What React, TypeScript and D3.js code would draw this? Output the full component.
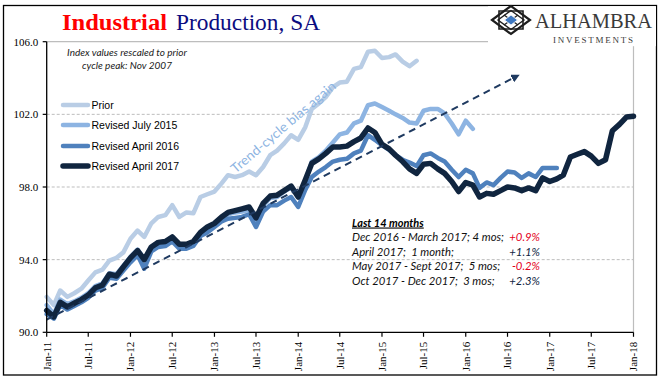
import * as d3 from "d3";

// ---- data ----
const START = new Date(2011, 0, 1);
const END = new Date(2018, 0, 1);

const tickLabels = [
  "Jan-11", "Jul-11", "Jan-12", "Jul-12", "Jan-13", "Jul-13", "Jan-14", "Jul-14",
  "Jan-15", "Jul-15", "Jan-16", "Jul-16", "Jan-17", "Jul-17", "Jan-18",
];
const yTicks = [90, 94, 98, 102, 106];
const yGrid = [94, 98, 102];

const prior = [
  91.95, 91.5, 92.3, 91.95, 92.15, 92.4, 92.85, 93.3, 93.45, 93.95, 94.1, 94.4,
  95.15, 95.6, 95.25, 96.0, 96.35, 96.45, 97.0, 96.35, 96.6, 96.55, 97.45, 97.6,
  97.75, 98.2, 98.65, 98.55, 98.65, 98.85, 98.65, 99.1, 99.75, 100.0, 100.4, 100.85,
  100.6, 101.3, 102.3, 102.6, 102.95, 103.5, 103.75, 103.8, 104.5, 104.6, 105.45, 105.5,
  105.1, 105.15, 105.3, 104.9, 104.65, 104.95,
];

const revisedJul2015 = [
  91.5, 91.0, 91.8, 91.55, 91.7, 91.9, 92.15, 92.55, 92.7, 93.25, 93.2, 93.65,
  94.15, 94.55, 94.05, 94.7, 94.95, 95.0, 95.2, 94.8, 94.8, 94.95, 95.45, 95.7,
  95.95, 96.3, 96.5, 96.6, 96.65, 96.75, 96.2, 97.0, 97.4, 97.45, 97.75, 98.0,
  97.5, 98.3, 99.4, 99.65, 100.0, 100.45, 100.9, 101.0, 101.5, 101.65, 102.5, 102.6,
  102.4, 102.2, 102.0, 101.8, 101.55, 101.5, 102.2, 102.3, 102.3, 102.05, 101.5, 100.9,
  101.65, 101.2,
];

const revisedApr2016 = [
  91.0, 90.75, 91.5, 91.25, 91.45, 91.65, 91.9, 92.3, 92.45, 93.0, 92.95, 93.4,
  93.85, 94.25, 93.5, 94.45, 94.7, 94.75, 95.0, 94.6, 94.6, 94.75, 95.3, 95.5,
  95.8, 96.1, 96.25, 96.3, 96.35, 96.5, 95.8, 96.65, 97.0, 97.0, 97.25, 97.45,
  96.9, 97.85, 98.55, 98.85, 99.1, 99.4, 99.5, 99.55, 99.85, 100.0, 100.85, 100.6,
  100.3, 100.05, 99.75, 99.5, 99.35, 99.15, 99.75, 99.85, 99.6, 99.4, 98.95, 98.55,
  98.95, 98.75, 97.95, 98.25, 98.1, 98.5, 98.85, 98.8, 98.5, 98.75, 98.55, 99.05,
  99.05, 99.05,
];

const revisedApr2017 = [
  91.2, 90.85, 91.65, 91.4, 91.6, 91.8, 92.05, 92.45, 92.6, 93.2, 93.1, 93.6,
  94.1, 94.5, 94.0, 94.7, 94.95, 95.0, 95.25, 94.85, 94.85, 95.0, 95.5, 95.8,
  96.0, 96.35, 96.6, 96.7, 96.8, 96.9, 96.3, 97.1, 97.5, 97.55, 97.8, 98.05,
  97.45, 98.4, 99.3, 99.55, 99.85, 100.2, 100.2, 100.25, 100.5, 100.7, 101.25, 101.0,
  100.35, 100.1, 99.75, 99.4, 99.0, 98.75, 99.25, 99.3, 99.0, 98.75, 98.3, 97.75,
  98.25, 98.1, 97.45, 97.65, 97.6, 97.8, 98.0, 97.95, 97.8, 97.95, 97.8, 98.5,
  98.3, 98.45, 98.65, 99.65, 99.8, 99.95, 99.7, 99.3, 99.5, 101.1, 101.45, 101.85,
  101.9,
];

const seriesNames = ["Prior", "Revised July 2015", "Revised April 2016", "Revised April 2017"];
const seriesValues = [prior, revisedJul2015, revisedApr2016, revisedApr2017];
const seriesColors = ["#b9cde5", "#8db4e2", "#4f81bd", "#10253f"];
const seriesWidths = [4.5, 4.5, 4.5, 5.5];

// dashed "trend" arrow, in data terms
const trendStart = { date: "2011-01-01", value: 90.7 };
const trendEnd = { date: "2016-08-10", value: 104.1 };

const summaryTitle = "Last 14 months";
const summaryText = [
  "Dec 2016 - March 2017; 4 mos;",
  "April 2017;  1 month;",
  "May 2017 - Sept 2017;  5 mos;",
  "Oct 2017 - Dec 2017;  3 mos;",
];
const summaryPct = ["+0.9%", "+1.1%", "-0.2%", "+2.3%"];
const summaryPctColors = ["#e3001b", "#10253f", "#e3001b", "#10253f"];

const SERIF = "'Liberation Serif', 'Times New Roman', serif";
const SANS = "'Liberation Sans', Arial, sans-serif";
const CAL = "Lato, 'Open Sans', sans-serif";

export default function App() {
  const width = 669;
  const height = 392;

  const x = d3.scaleTime().domain([START, END]).range([46.7, 633.5]);
  const y = d3.scaleLinear().domain([90, 106]).range([332.3, 41.7]);

  const parseTick = d3.timeParse("%b-%y");
  const parseDay = d3.timeParse("%Y-%m-%d");
  const monthDate = (i: number) => d3.timeMonth.offset(START, i);

  const line = d3
    .line<number>()
    .x((_, i) => x(monthDate(i)))
    .y((d) => y(d));

  const [x0, x1] = x.range();
  const yTop = y(106);
  const yBot = y(90);

  const tx1 = x(parseDay(trendStart.date)!);
  const ty1 = y(trendStart.value);
  const tx2 = x(parseDay(trendEnd.date)!);
  const ty2 = y(trendEnd.value);

  // text along the prior line
  const annX = x(parseDay("2013-10-28")!);
  const annY = y(101.3);

  const legendY = [105, 125, 146, 166];

  return (
    <svg
      width={width}
      height={height}
      style={{ position: "absolute", left: 0, top: 0, background: "#fff" }}
    >
      <defs>
        <marker
          id="arrow"
          viewBox="0 0 10 10"
          refX="6"
          refY="5"
          markerWidth="4.2"
          markerHeight="4.2"
          orient="auto"
          markerUnits="strokeWidth"
        >
          <path d="M0,0 L10,5 L0,10 z" fill="#1f3a60" />
        </marker>
      </defs>
      <rect x={0} y={0} width={width} height={height} fill="#fff" />
      {/* outer frame */}
      <rect x={3.5} y={5.5} width={653} height={369.5} fill="none" stroke="#000" strokeWidth={1.3} />

      {/* title */}
      <text x={62} y={29.5} fontFamily={SERIF} fontSize={23} fontWeight="bold" fill="#ff0000" textLength={105} lengthAdjust="spacingAndGlyphs">
        Industrial
      </text>
      <text x={176} y={29.5} fontFamily={SERIF} fontSize={23} fill="#0b0b80" textLength={144} lengthAdjust="spacingAndGlyphs">
        Production, SA
      </text>

      {/* gridlines */}
      {yGrid.map((v) => (
        <line key={v} x1={x0} x2={x1} y1={y(v)} y2={y(v)} stroke="#bdbdbd" strokeWidth={1} strokeDasharray="3,2" />
      ))}
      <line x1={x0} x2={x1} y1={yTop} y2={yTop} stroke="#bdbdbd" strokeWidth={1.2} />
      <line x1={x1} x2={x1} y1={yTop} y2={yBot} stroke="#bdbdbd" strokeWidth={1.2} />

      {/* series */}
      {seriesValues.map((vals, i) => (
        <path
          key={seriesNames[i]}
          d={line(vals) || ""}
          fill="none"
          stroke={seriesColors[i]}
          strokeWidth={seriesWidths[i]}
          strokeLinejoin="round"
          strokeLinecap="round"
        />
      ))}

      {/* trend arrow */}
      <line
        x1={tx1}
        y1={ty1}
        x2={tx2}
        y2={ty2}
        stroke="#1f3a60"
        strokeWidth={2}
        strokeDasharray="7,5"
        markerEnd="url(#arrow)"
      />

      <text
        x={annX}
        y={annY}
        transform={`rotate(-40.4 ${annX} ${annY})`}
        textAnchor="middle"
        dy="0.35em"
        fontFamily={CAL}
        fontSize={13}
        fill="#8db4e2"
        textLength={133}
        lengthAdjust="spacingAndGlyphs"
      >
        Trend-cycle bias again
      </text>

      {/* axes */}
      <line x1={x0} x2={x0} y1={yTop} y2={yBot} stroke="#000" strokeWidth={1.3} />
      <line x1={x0} x2={x1} y1={yBot} y2={yBot} stroke="#000" strokeWidth={1.3} />
      {yTicks.map((v) => (
        <g key={v}>
          <line x1={x0 - 4} x2={x0} y1={y(v)} y2={y(v)} stroke="#000" strokeWidth={1.2} />
          <text x={x0 - 8.5} y={y(v)} dy="0.35em" textAnchor="end" fontFamily={SERIF} fontSize={11} fill="#000">
            {d3.format(".1f")(v)}
          </text>
        </g>
      ))}
      {tickLabels.map((lab) => {
        const tx = x(parseTick(lab)!);
        return (
          <g key={lab}>
            <line x1={tx} x2={tx} y1={yBot} y2={yBot + 4.5} stroke="#000" strokeWidth={1.2} />
            <text
              transform={`translate(${tx},${yBot + 9.5}) rotate(-90)`}
              textAnchor="end"
              dy="0.35em"
              fontFamily={SERIF}
              fontSize={11}
              fill="#000"
            >
              {lab}
            </text>
          </g>
        );
      })}

      {/* note */}
      <text x={127} y={55.7} textAnchor="middle" fontFamily={CAL} fontStyle="italic" fontSize={10} fill="#1a1a1a">
        Index values rescaled to prior
      </text>
      <text x={127} y={69} textAnchor="middle" fontFamily={CAL} fontStyle="italic" fontSize={10} fill="#1a1a1a">
        cycle peak: Nov 2007
      </text>

      {/* legend */}
      {seriesNames.map((name, i) => (
        <g key={name}>
          <line x1={63} x2={88} y1={legendY[i]} y2={legendY[i]} stroke={seriesColors[i]} strokeWidth={seriesWidths[i]} strokeLinecap="round" />
          <text x={91.5} y={legendY[i]} dy="0.36em" fontFamily={SANS} fontSize={10.5} fill="#000">
            {name}
          </text>
        </g>
      ))}

      {/* summary box */}
      <text x={352} y={226.5} fontFamily={CAL} fontStyle="italic" fontWeight="bold" fontSize={11} textDecoration="underline" fill="#000">
        {summaryTitle}
      </text>
      {summaryText.map((t, i) => (
        <g key={t}>
          <text
            x={352}
            y={241 + i * 14.5}
            fontFamily={CAL}
            fontStyle="italic"
            fontSize={11.3}
            fill="#111"
            style={{ whiteSpace: "pre" }}
          >
            {t}
          </text>
          <text x={540} y={241 + i * 14.5} textAnchor="end" fontFamily={CAL} fontStyle="italic" fontSize={11.3} fill={summaryPctColors[i]}>
            {summaryPct[i]}
          </text>
        </g>
      ))}

      {/* logo */}
      <rect x={488} y={6.2} width={168} height={40} fill="#fff" />
      <g transform="translate(511,20)">
        <path d="M-19,0 L0,-14 L19,0 L0,14 Z" fill="none" stroke="#1e1e1e" strokeWidth={2.2} />
        <path d="M-12,-9 L12,-9 L12,9 L-12,9 Z" fill="none" stroke="#1e1e1e" strokeWidth={1.6} />
        <path d="M-13,0 L0,-9.5 L13,0 L0,9.5 Z" fill="none" stroke="#1e1e1e" strokeWidth={1.4} />
        <path d="M-7,-5 L7,5 M-7,5 L7,-5" stroke="#1e1e1e" strokeWidth={1.2} />
        <path d="M-6.5,0 L0,-5 L6.5,0 L0,5 Z" fill="#3f78c0" stroke="#fff" strokeWidth={0.8} />
      </g>
      <text x={535} y={27.5} fontFamily={SERIF} fontSize={20} fill="#3a3a3a" textLength={117} lengthAdjust="spacingAndGlyphs">
        ALHAMBRA
      </text>
      <text x={553} y={42.5} fontFamily={SERIF} fontSize={9} fill="#3a3a3a" textLength={80} lengthAdjust="spacing">
        INVESTMENTS
      </text>
    </svg>
  );
}
